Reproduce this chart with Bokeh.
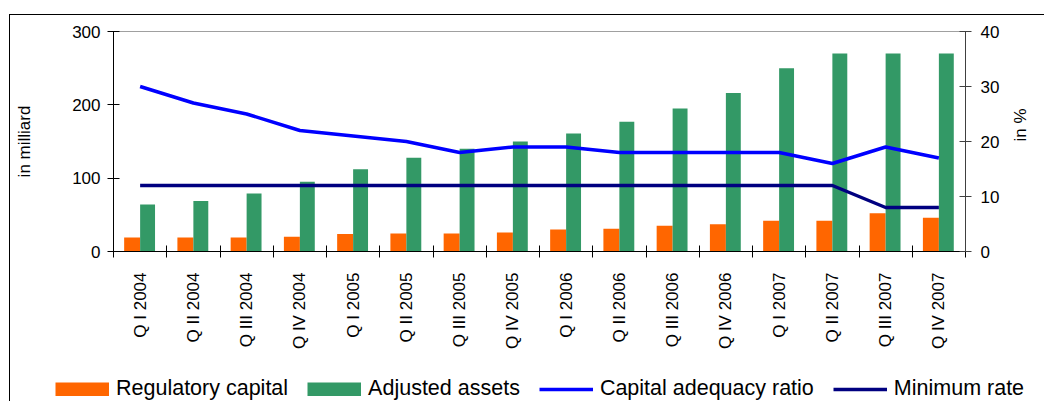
import math
import numpy as np
from bokeh.plotting import figure
from bokeh.layouts import column
from bokeh.models import (Range1d, LinearAxis, FixedTicker, Legend, LegendItem,
                          ColumnDataSource)
from bokeh.embed import file_html
from bokeh.resources import INLINE

categories = ["Q I 2004", "Q II 2004", "Q III 2004", "Q IV 2004",
              "Q I 2005", "Q II 2005", "Q III 2005", "Q IV 2005",
              "Q I 2006", "Q II 2006", "Q III 2006", "Q IV 2006",
              "Q I 2007", "Q II 2007", "Q III 2007", "Q IV 2007"]
regulatory_capital = [19, 19, 19, 20, 24, 24.5, 24.5, 26, 30, 31, 35, 37, 42, 42, 52, 46]
adjusted_assets = [64, 69, 79, 95, 112, 128, 140, 150, 161, 177, 195, 216, 250, 270, 270, 270]
capital_adequacy_ratio = [30, 27, 25, 22, 21, 20, 18, 19, 19, 18, 18, 18, 18, 16, 19, 17]
minimum_rate = [12, 12, 12, 12, 12, 12, 12, 12, 12, 12, 12, 12, 12, 12, 8, 8]
left_ticks = [0, 100, 200, 300]
right_ticks = [0, 10, 20, 30, 40]
series_names = ["Regulatory capital", "Adjusted assets", "Capital adequacy ratio", "Minimum rate"]

FONT = "Liberation Sans"
ORANGE = "#FF6600"
GREEN = "#339966"
BLUE = "#0000FF"
NAVY = "#000080"

n = len(categories)
pos = np.arange(n) + 0.5
src = ColumnDataSource(dict(cat=categories, pos=pos, rc_x=pos - 0.15, aa_x=pos + 0.14,
                            rc=regulatory_capital, aa=adjusted_assets,
                            car=capital_adequacy_ratio, mr=minimum_rate))

W = 1034
p = figure(width=W, height=356, x_range=Range1d(0, n), y_range=Range1d(0, 300),
           output_backend="svg", toolbar_location=None,
           min_border_left=103, min_border_right=79, min_border_top=16, min_border_bottom=120)
p.frame_align = False
p.extra_y_ranges = {"pct": Range1d(0, 40)}

p.vbar(x="rc_x", top="rc", width=0.3, source=src, fill_color=ORANGE, line_color=None)
p.vbar(x="aa_x", top="aa", width=0.28, source=src, fill_color=GREEN, line_color=None)
p.line(x="pos", y="car", source=src, line_color=BLUE, line_width=3.5, y_range_name="pct")
p.line(x="pos", y="mr", source=src, line_color=NAVY, line_width=3.5, y_range_name="pct")

p.xgrid.visible = False
p.ygrid.visible = False
p.outline_line_color = "#a0a0a0"
p.outline_line_width = 1
p.background_fill_color = "white"
p.border_fill_color = "white"

# bottom axis
xa = p.xaxis[0]
xa.ticker = FixedTicker(ticks=list(pos), minor_ticks=list(range(n + 1)))
xa.major_label_overrides = {float(x): c for x, c in zip(pos, categories)}
xa.major_label_orientation = math.pi / 2
xa.major_tick_in = 0
xa.major_tick_out = 0
xa.minor_tick_in = 6
xa.minor_tick_out = 6
xa.minor_tick_line_color = "black"
xa.axis_line_color = "black"
xa.major_label_standoff = 15
xa.major_label_text_font = FONT
xa.major_label_text_font_size = "17px"
xa.major_label_text_color = "black"

# left axis
ya = p.yaxis[0]
ya.ticker = FixedTicker(ticks=left_ticks)
ya.major_tick_in = 6
ya.major_tick_out = 6
ya.minor_tick_line_color = None
ya.axis_line_color = "black"
ya.major_tick_line_color = "black"
ya.major_label_standoff = 7
ya.major_label_text_font = FONT
ya.major_label_text_font_size = "17px"
ya.major_label_text_color = "black"
ya.axis_label = "in milliard"
ya.axis_label_standoff = 35
ya.axis_label_text_font = FONT
ya.axis_label_text_font_size = "17px"
ya.axis_label_text_font_style = "normal"
ya.axis_label_text_color = "black"

# right axis
ra = LinearAxis(y_range_name="pct", ticker=FixedTicker(ticks=right_ticks))
ra.major_tick_in = 6
ra.major_tick_out = 6
ra.minor_tick_line_color = None
ra.axis_line_color = "#404040"
ra.major_tick_line_color = "#404040"
ra.major_label_standoff = 9
ra.major_label_text_font = FONT
ra.major_label_text_font_size = "17px"
ra.major_label_text_color = "black"
ra.axis_label = "in %"
ra.axis_label_orientation = math.pi / 2
ra.axis_label_standoff = 18
ra.axis_label_text_font = FONT
ra.axis_label_text_font_size = "17px"
ra.axis_label_text_font_style = "normal"
ra.axis_label_text_color = "black"
p.add_layout(ra, "right")

# legend strip (separate small figure so the legend is not clipped by the chart frame)
lf = figure(width=W, height=30, x_range=Range1d(0, 1), y_range=Range1d(0, 1),
            output_backend="svg", toolbar_location=None, min_border=0,
            x_axis_location=None, y_axis_location=None)
lf.frame_align = False
lf.outline_line_color = None
lf.xgrid.visible = False
lf.ygrid.visible = False
# thick butt-capped strokes give full-size 54x14 colour swatches for the bar series
l_rc = lf.line(x=[-5, -4], y=[-5, -5], line_color=ORANGE, line_width=14, line_cap="butt")
l_aa = lf.line(x=[-5, -4], y=[-5, -5], line_color=GREEN, line_width=14, line_cap="butt")
l_car = lf.line(x=[-5, -4], y=[-5, -5], line_color=BLUE, line_width=3.5)
l_mr = lf.line(x=[-5, -4], y=[-5, -5], line_color=NAVY, line_width=3.5)

legend = Legend(items=[
    LegendItem(label=series_names[0], renderers=[l_rc]),
    LegendItem(label=series_names[1], renderers=[l_aa]),
    LegendItem(label=series_names[2], renderers=[l_car]),
    LegendItem(label=series_names[3], renderers=[l_mr]),
], orientation="horizontal", location=(45, 0))
legend.glyph_width = 54
legend.glyph_height = 14
legend.label_standoff = 7
legend.spacing = 19
legend.padding = 0
legend.margin = 0
legend.border_line_alpha = 0
legend.background_fill_alpha = 0
legend.label_text_font = FONT
legend.label_text_font_size = "21.5px"
legend.label_text_color = "black"
lf.add_layout(legend, "center")

layout = column(p, lf, spacing=0)
# outer frame of the original figure (top and left edges visible)
layout.styles = {"margin-left": "9px", "margin-top": "14px",
                 "border-left": "1px solid black", "border-top": "1px solid black"}

open("out.html", "w").write(file_html(layout, INLINE))
